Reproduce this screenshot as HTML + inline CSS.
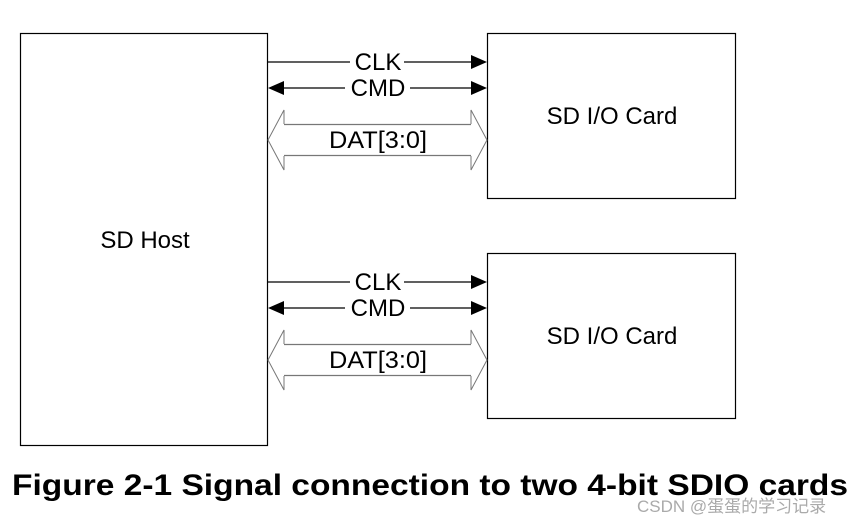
<!DOCTYPE html>
<html><head><meta charset="utf-8"><style>
html,body{margin:0;padding:0;background:#fff;width:863px;height:525px;overflow:hidden}
svg{display:block}
</style></head><body>
<svg width="863" height="525" viewBox="0 0 863 525" xmlns="http://www.w3.org/2000/svg" font-family="Liberation Sans, Arial, sans-serif">
<rect x="20.5" y="33.5" width="247" height="412" fill="none" stroke="#000" stroke-width="1.2"/>
<rect x="487.5" y="33.5" width="248" height="165" fill="none" stroke="#000" stroke-width="1.2"/>
<rect x="487.5" y="253.5" width="248" height="165" fill="none" stroke="#000" stroke-width="1.2"/>
<text x="145" y="248" font-size="24" text-anchor="middle">SD Host</text>
<text x="612" y="124" font-size="24" text-anchor="middle">SD I/O Card</text>
<text x="612" y="344" font-size="24" text-anchor="middle">SD I/O Card</text>
<g id="grp">
<line x1="268" y1="62" x2="350" y2="62" stroke="#000" stroke-width="1.3"/>
<line x1="404" y1="62" x2="472" y2="62" stroke="#000" stroke-width="1.3"/>
<polygon points="487,62 471,55 471,69" fill="#000"/>
<text x="378" y="70" font-size="24" text-anchor="middle">CLK</text>
<line x1="283" y1="88" x2="345" y2="88" stroke="#000" stroke-width="1.3"/>
<line x1="410" y1="88" x2="472" y2="88" stroke="#000" stroke-width="1.3"/>
<polygon points="487,88 471,81 471,95" fill="#000"/>
<polygon points="268,88 284,81 284,95" fill="#000"/>
<text x="378" y="96" font-size="24" text-anchor="middle">CMD</text>
<polyline points="284,124 284,110 268,140 284,170 284,156" fill="none" stroke="#777" stroke-width="1"/>
<polyline points="471,124 471,110 487,140 471,170 471,156" fill="none" stroke="#777" stroke-width="1"/>
<line x1="284" y1="124.5" x2="471" y2="124.5" stroke="#777" stroke-width="1.2"/>
<line x1="284" y1="155.5" x2="471" y2="155.5" stroke="#777" stroke-width="1.2"/>
<text x="378" y="148" font-size="24" text-anchor="middle" textLength="98" lengthAdjust="spacingAndGlyphs">DAT[3:0]</text>
</g>
<use href="#grp" transform="translate(0,220)"/>
<text x="12" y="495" font-size="30" font-weight="bold" textLength="836" lengthAdjust="spacingAndGlyphs">Figure 2-1 Signal connection to two 4-bit SDIO cards</text>
<text x="637" y="512" font-size="17" fill="#aaa" font-family="Liberation Sans, Noto Sans CJK SC, sans-serif">CSDN @蛋蛋的学习记录</text>
</svg>
</body></html>
